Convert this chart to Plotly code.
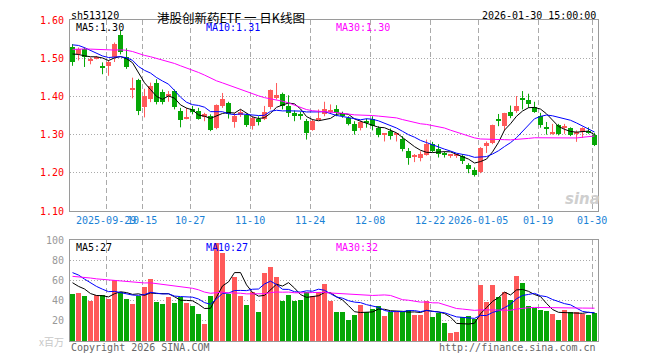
import plotly.graph_objects as go
import pandas as pd
import numpy as np

# ---------------- data ----------------
holidays = ["2025-10-01", "2025-10-02", "2025-10-03", "2025-10-06", "2025-10-07",
            "2025-10-08", "2026-01-01", "2026-01-02"]
dates = [d.strftime("%Y-%m-%d") for d in pd.bdate_range("2025-09-19", "2026-01-30")
         if d.strftime("%Y-%m-%d") not in holidays]

opens = [1.530, 1.510, 1.525, 1.493, 1.500, 1.478, 1.479, 1.502, 1.561, 1.502,
         1.416, 1.442, 1.372, 1.392, 1.436, 1.411, 1.401, 1.414, 1.363, 1.342,
         1.368, 1.363, 1.346, 1.348, 1.318, 1.376, 1.382, 1.333, 1.352, 1.351,
         1.322, 1.341, 1.342, 1.372, 1.397, 1.405, 1.375, 1.356, 1.353, 1.335,
         1.313, 1.340, 1.354, 1.362, 1.368, 1.357, 1.344, 1.328, 1.318, 1.334,
         1.341, 1.318, 1.301, 1.309, 1.299, 1.289, 1.258, 1.242, 1.240, 1.247,
         1.275, 1.263, 1.252, 1.245, 1.245, 1.245, 1.221, 1.208, 1.202, 1.269,
         1.278, 1.342, 1.322, 1.360, 1.361, 1.395, 1.390, 1.372, 1.348, 1.321,
         1.303, 1.325, 1.316, 1.318, 1.303, 1.307, 1.307, 1.300]
highs = [1.537, 1.528, 1.528, 1.502, 1.506, 1.489, 1.495, 1.541, 1.572, 1.526,
         1.449, 1.446, 1.420, 1.436, 1.445, 1.418, 1.414, 1.418, 1.370, 1.370,
         1.375, 1.370, 1.357, 1.353, 1.379, 1.409, 1.386, 1.357, 1.366, 1.355,
         1.348, 1.348, 1.375, 1.418, 1.435, 1.410, 1.403, 1.363, 1.360, 1.341,
         1.341, 1.366, 1.386, 1.379, 1.377, 1.360, 1.348, 1.335, 1.337, 1.342,
         1.348, 1.322, 1.304, 1.316, 1.302, 1.296, 1.265, 1.249, 1.256, 1.287,
         1.281, 1.275, 1.256, 1.247, 1.248, 1.249, 1.225, 1.214, 1.267, 1.282,
         1.326, 1.354, 1.357, 1.376, 1.401, 1.414, 1.407, 1.386, 1.357, 1.333,
         1.328, 1.328, 1.328, 1.319, 1.311, 1.319, 1.319, 1.304]
lows = [1.480, 1.494, 1.477, 1.484, 1.497, 1.458, 1.454, 1.490, 1.510, 1.472,
        1.395, 1.351, 1.345, 1.385, 1.379, 1.379, 1.386, 1.366, 1.319, 1.340,
        1.353, 1.339, 1.335, 1.309, 1.314, 1.370, 1.342, 1.318, 1.346, 1.320,
        1.313, 1.324, 1.338, 1.366, 1.392, 1.366, 1.346, 1.335, 1.339, 1.287,
        1.310, 1.338, 1.348, 1.354, 1.348, 1.344, 1.324, 1.300, 1.311, 1.318,
        1.311, 1.293, 1.282, 1.287, 1.282, 1.256, 1.221, 1.228, 1.230, 1.245,
        1.254, 1.240, 1.240, 1.239, 1.239, 1.223, 1.199, 1.190, 1.199, 1.252,
        1.275, 1.322, 1.310, 1.343, 1.357, 1.366, 1.370, 1.357, 1.318, 1.300,
        1.300, 1.298, 1.302, 1.296, 1.281, 1.291, 1.302, 1.270]
closes = [1.491, 1.524, 1.502, 1.498, 1.503, 1.476, 1.490, 1.537, 1.515, 1.476,
          1.423, 1.363, 1.401, 1.427, 1.386, 1.385, 1.407, 1.372, 1.339, 1.344,
          1.360, 1.342, 1.355, 1.311, 1.377, 1.392, 1.354, 1.348, 1.360, 1.326,
          1.344, 1.332, 1.360, 1.417, 1.404, 1.375, 1.357, 1.349, 1.351, 1.304,
          1.335, 1.342, 1.367, 1.364, 1.357, 1.348, 1.328, 1.309, 1.333, 1.332,
          1.322, 1.300, 1.303, 1.296, 1.302, 1.261, 1.239, 1.244, 1.249, 1.275,
          1.258, 1.249, 1.246, 1.246, 1.246, 1.230, 1.211, 1.195, 1.265, 1.278,
          1.325, 1.335, 1.356, 1.348, 1.376, 1.393, 1.379, 1.360, 1.326, 1.314,
          1.305, 1.302, 1.322, 1.298, 1.305, 1.316, 1.305, 1.274]
volumes = [47, 48, 45, 39.3, 46, 46, 42, 60.7, 49, 42,
           37, 45, 53, 61, 39, 37, 44, 38, 44, 38,
           35, 27, 17, 45, 96.7, 87, 47, 63, 45, 36,
           49, 29, 67, 73, 63, 40, 46, 40, 41, 49,
           45, 49, 56, 40, 29, 29, 21, 26, 36, 29,
           32, 35, 25, 29, 29, 29, 31, 26, 26, 40,
           24, 28, 18, 8, 9, 24, 25, 22, 55, 39,
           55, 44, 49, 41, 64, 57, 35, 33, 31, 30,
           27, 21, 31, 29, 29, 27, 26, 28]

# estimated closes / volumes of the 29 sessions before the window (feed the moving averages)
hist_closes = [1.49, 1.50, 1.51, 1.52, 1.53, 1.52, 1.51, 1.50, 1.51, 1.52,
               1.53, 1.54, 1.53, 1.52, 1.51, 1.52, 1.53, 1.52, 1.51, 1.52,
               1.54, 1.56, 1.57, 1.57, 1.555, 1.53, 1.52, 1.51, 1.504]
hist_volumes = [60, 65, 58, 70, 62, 55, 64, 68, 60, 59,
                63, 66, 57, 61, 65, 60, 62, 64, 58, 67,
                72, 85, 80, 78, 73.5, 66, 58, 62, 55.5]

tick_dates = ["2025-09-29", "2025-10-15", "2025-10-27", "2025-11-10", "2025-11-24",
              "2025-12-08", "2025-12-22", "2026-01-05", "2026-01-19", "2026-01-30"]
tick_labels = ["2025-09-29", "10-15", "10-27", "11-10", "11-24",
               "12-08", "12-22", "2026-01-05", "01-19", "01-30"]
price_ticks = [1.10, 1.20, 1.30, 1.40, 1.50, 1.60]
vol_ticks = [20, 40, 60, 80, 100]

# ---------------- styling ----------------
RED = "#ff5a5a"
GREEN = "#06a706"
MONO = "DejaVu Sans Mono"
GRID = "#aaaaaa"
FRAME = "#9a9a9a"

n = len(closes)
idx = list(range(n))
up = [c >= o for o, c in zip(opens, closes)]
colors = [RED if u else GREEN for u in up]

all_c = pd.Series(hist_closes + closes)
all_v = pd.Series(hist_volumes + volumes)
ma = {p: all_c.rolling(p).mean().iloc[-n:].tolist() for p in (5, 10, 30)}
vma = {p: all_v.rolling(p).mean().iloc[-n:].tolist() for p in (5, 10, 30)}

body_base, body_h = [], []
for o, c in zip(opens, closes):
    h = abs(c - o)
    if h < 0.0026:
        body_base.append((o + c) / 2 - 0.0013)
        body_h.append(0.0026)
    else:
        body_base.append(min(o, c))
        body_h.append(h)

fig = go.Figure()

# wicks
for flag, col in ((True, RED), (False, GREEN)):
    xs, ys = [], []
    for i in idx:
        if up[i] == flag:
            xs += [i, i, None]
            ys += [lows[i], highs[i], None]
    fig.add_trace(go.Scatter(x=xs, y=ys, mode="lines", line=dict(color=col, width=1),
                             hoverinfo="skip", xaxis="x", yaxis="y"))

# bodies
fig.add_trace(go.Bar(x=idx, y=body_h, base=body_base, width=0.78,
                     marker=dict(color=colors, line=dict(width=0)),
                     hoverinfo="skip", xaxis="x", yaxis="y"))

# price MAs
for p, col in ((5, "#000000"), (10, "#0000ff"), (30, "#ff00ff")):
    fig.add_trace(go.Scatter(x=idx, y=ma[p], mode="lines", line=dict(color=col, width=1),
                             hoverinfo="skip", xaxis="x", yaxis="y"))

# volume bars
fig.add_trace(go.Bar(x=idx, y=volumes, width=0.84,
                     marker=dict(color=colors, line=dict(width=0)),
                     hoverinfo="skip", xaxis="x2", yaxis="y2"))
for p, col in ((5, "#000000"), (10, "#0000ff"), (30, "#ff00ff")):
    fig.add_trace(go.Scatter(x=idx, y=vma[p], mode="lines", line=dict(color=col, width=1),
                             hoverinfo="skip", xaxis="x2", yaxis="y2"))

tick_pos = [dates.index(d) - 0.4 for d in tick_dates]
xr = [-0.42, n - 0.42]

common_x = dict(range=xr, tickvals=tick_pos, showgrid=True, gridcolor=GRID, gridwidth=1,
                griddash="5px,3px", showline=True, linecolor=FRAME, linewidth=1, mirror=True,
                ticks="", zeroline=False, fixedrange=True, automargin=False, tickangle=0)
common_y = dict(showgrid=True, gridcolor=GRID, griddash="1px,2px", gridwidth=1,
                showline=True, linecolor=FRAME, linewidth=1, mirror=True, ticks="",
                zeroline=False, automargin=False, ticklabelstandoff=3)

# page body has an 8px default margin: the figure is drawn 8px in from the window corner
fig.update_layout(
    width=652, height=352,
    margin=dict(l=62, r=62, t=12, b=19, autoexpand=False),
    paper_bgcolor="white", plot_bgcolor="white",
    showlegend=False, barmode="overlay", bargap=0,
    xaxis=dict(domain=[0, 1], anchor="y", ticktext=tick_labels,
               tickfont=dict(family=MONO, size=10, color="#1a82d6"), **common_x),
    yaxis=dict(domain=[0.405, 1], anchor="x", range=[1.10, 1.60], tickvals=price_ticks,
               ticktext=[f"{v:.2f}" for v in price_ticks],
               tickfont=dict(family=MONO, size=10, color="#ff0000"), **common_y),
    xaxis2=dict(domain=[0, 1], anchor="y2", showticklabels=False, ticktext=tick_labels,
                **common_x),
    yaxis2=dict(domain=[0, 0.3146], anchor="x2", range=[0, 100], tickvals=vol_ticks,
                ticktext=[str(v) for v in vol_ticks],
                tickfont=dict(family=MONO, size=10, color="#999999"), **common_y),
)

def px_x(px):
    return (px - 70) / 528.0

def px_y(py):
    return (341 - py) / 321.0

def note(text, x, y, xanchor="left", color="#000", size=10, family=MONO):
    fig.add_annotation(text=text, xref="paper", yref="paper", x=px_x(x), y=px_y(y),
                       xanchor=xanchor, yanchor="middle", showarrow=False,
                       font=dict(family=family, size=size, color=color))

note("sh513120", 69, 15)
note("港股创新药ETF 一 日K线图", 231, 17.5, xanchor="center", size=12.5,
     family="Noto Sans CJK SC")
note("2026-01-30 15:00:00", 598, 15, xanchor="right")

note("MA5:1.30", 74, 27.5, color="#000000")
note("MA10:1.31", 204, 27.5, color="#0000ff")
note("MA30:1.30", 334, 27.5, color="#ff00ff")

note("MA5:27", 74, 247, color="#000000")
note("MA10:27", 204, 247, color="#0000ff")
note("MA30:32", 334, 247, color="#ff00ff")

note("x百万", 66, 341, xanchor="right", color="#c8c8c8", size=10,
     family="Noto Sans CJK SC")
note("Copyright 2026 SINA.COM", 69, 348, color="#666666")
note("http://finance.sina.com.cn", 598, 348, xanchor="right", color="#666666")
note("<b><i>sina</i></b>", 582, 199, xanchor="center", color="#cfcfcf", size=15,
     family="DejaVu Sans")

fig.write_html("out.html")
